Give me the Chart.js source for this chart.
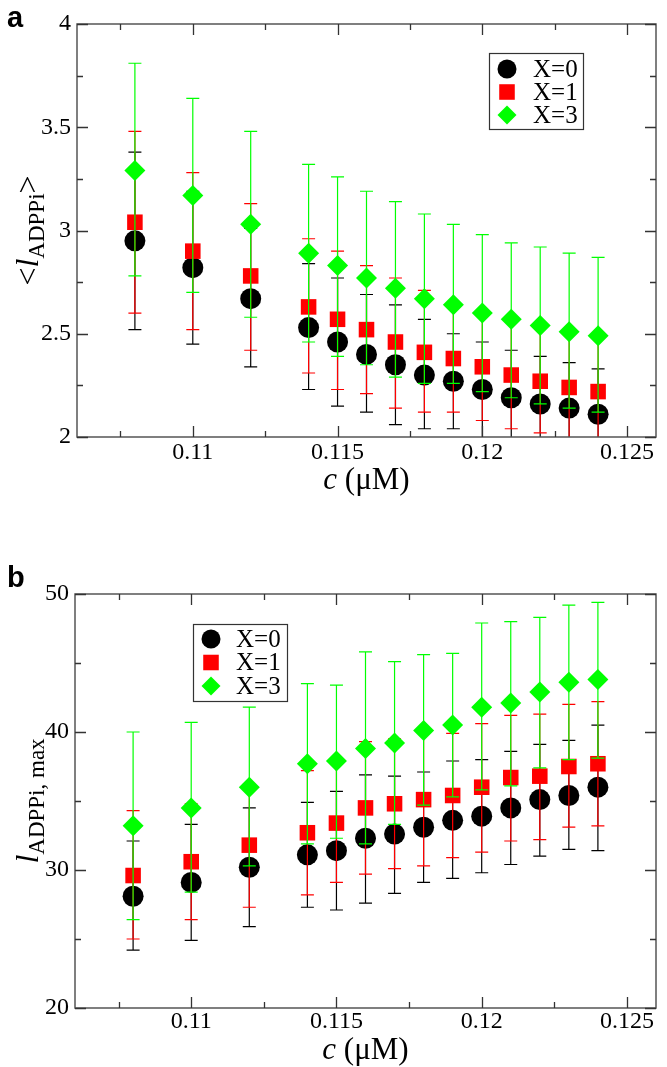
<!DOCTYPE html>
<html>
<head>
<meta charset="utf-8">
<script src="https://cdn.jsdelivr.net/npm/chart.js@4.4.0/dist/chart.umd.min.js"></script>
<style>
html,body{margin:0;padding:0;background:#ffffff;}
#wrapA{position:absolute;left:0;top:0;width:667px;height:534px;}
#wrapB{position:absolute;left:0;top:534px;width:667px;height:533px;}
</style>
</head>
<body>
<div id="wrapA"><canvas id="chartA"></canvas></div>
<div id="wrapB"><canvas id="chartB"></canvas></div>
<script>
// ---------- data ----------
const concentrations = [0.108,0.110,0.112,0.114,0.115,0.116,0.117,0.118,0.119,0.120,0.121,0.122,0.123,0.124];
const seriesNames  = ['X=0','X=1','X=3'];
const seriesColors = ['#000000','#ff0000','#00ff00'];
const seriesShapes = ['circle','rect','rectRot'];

// panel a : <l_ADPPi>
const meanA_X0 = [2.95,2.82,2.67,2.53,2.46,2.40,2.35,2.30,2.27,2.23,2.19,2.16,2.14,2.11];
const highA_X0 = [3.38,3.19,3.01,2.84,2.77,2.69,2.64,2.57,2.50,2.46,2.42,2.39,2.36,2.33];
const lowA_X0  = [2.52,2.45,2.34,2.23,2.15,2.12,2.06,2.04,2.04,1.99,1.96,1.93,1.91,1.89];
const meanA_X1 = [3.04,2.90,2.78,2.63,2.57,2.52,2.46,2.41,2.38,2.34,2.30,2.27,2.24,2.22];
const highA_X1 = [3.48,3.28,3.13,2.96,2.90,2.83,2.77,2.71,2.65,2.60,2.56,2.53,2.50,2.48];
const lowA_X1  = [2.60,2.52,2.42,2.31,2.23,2.21,2.14,2.12,2.12,2.08,2.04,2.02,1.98,1.95];
const meanA_X3 = [3.29,3.17,3.03,2.89,2.83,2.77,2.72,2.67,2.64,2.60,2.57,2.54,2.51,2.49];
const highA_X3 = [3.81,3.64,3.48,3.32,3.26,3.19,3.14,3.08,3.03,2.98,2.94,2.92,2.89,2.87];
const lowA_X3  = [2.78,2.70,2.58,2.46,2.39,2.35,2.29,2.26,2.26,2.22,2.19,2.16,2.14,2.12];

// panel b : l_ADPPi,max
const meanB_X0 = [28.1,29.1,30.2,31.1,31.4,32.3,32.6,33.1,33.6,33.9,34.5,35.1,35.4,36.0];
const highB_X0 = [32.1,33.3,34.5,34.9,35.7,36.9,36.8,37.1,37.9,38.0,38.6,39.1,39.4,40.5];
const lowB_X0  = [24.2,24.9,25.9,27.3,27.1,27.6,28.3,29.1,29.4,29.8,30.4,31.0,31.5,31.4];
const meanB_X1 = [29.6,30.6,31.8,32.7,33.4,34.5,34.8,35.1,35.4,36.0,36.7,36.8,37.5,37.7];
const highB_X1 = [34.3,34.8,36.2,37.2,37.8,39.3,39.5,39.9,39.9,40.6,41.2,41.3,42.0,42.2];
const lowB_X1  = [25.0,26.4,27.3,28.2,29.1,29.7,30.1,30.3,30.9,31.3,32.1,32.2,33.1,33.2];
const meanB_X3 = [33.2,34.5,36.0,37.7,37.9,38.8,39.2,40.1,40.5,41.8,42.1,42.9,43.6,43.8];
const highB_X3 = [40.0,40.7,41.8,43.5,43.4,45.8,45.1,45.6,45.7,47.9,48.0,48.3,49.2,49.4];
const lowB_X3  = [26.4,28.4,30.3,31.9,32.3,31.9,33.3,34.7,35.3,35.8,36.1,37.4,38.0,38.1];

// ticks
const xMajorTicks = [0.11,0.115,0.12,0.125];
const xTickLabels = ['0.11','0.115','0.12','0.125'];
const xMinorTicks = [0.1075,0.1125,0.1175,0.1225];
const yMajorTicksA = [2,2.5,3,3.5,4];
const yTickLabelsA = ['2','2.5','3','3.5','4'];
const yMinorTicksA = [2.25,2.75,3.25,3.75];
const yMajorTicksB = [20,30,40,50];
const yTickLabelsB = ['20','30','40','50'];
const yMinorTicksB = [25,35,45];

// ---------- helpers ----------
const SERIF = "'Liberation Serif', 'Times New Roman', serif";
Chart.defaults.font.family = SERIF;
Chart.defaults.font.size = 24;
Chart.defaults.color = '#000000';

function drawShape(ctx, shape, x, y, r, color) {
  ctx.save();
  ctx.fillStyle = color;
  ctx.beginPath();
  if (shape === 'circle') ctx.arc(x, y, r, 0, Math.PI * 2);
  else if (shape === 'rect') { const s = r * Math.SQRT1_2; ctx.rect(x - s, y - s, 2 * s, 2 * s); }
  else { ctx.moveTo(x - r, y); ctx.lineTo(x, y - r); ctx.lineTo(x + r, y); ctx.lineTo(x, y + r); ctx.closePath(); }
  ctx.fill();
  ctx.restore();
}

function buildDatasets(means, lows, highs) {
  const radii = [10.5, 11, 10.5];
  return means.map((m, s) => ({
    label: seriesNames[s],
    data: concentrations.map((c, i) => ({x: c, y: m[i]})),
    errorLow: lows[s],
    errorHigh: highs[s],
    showLine: false,
    pointStyle: seriesShapes[s],
    pointRadius: radii[s],
    pointHoverRadius: radii[s],
    pointBackgroundColor: seriesColors[s],
    pointBorderColor: seriesColors[s],
    pointBorderWidth: 0,
    order: 3 - s
  }));
}

const decorPlugin = {
  id: 'decor',
  beforeDatasetDraw(chart, args) {
    const ds = chart.data.datasets[args.index];
    if (!ds.errorLow) return;
    const ctx = chart.ctx, area = chart.chartArea;
    const xs = chart.scales.x, ys = chart.scales.y;
    ctx.save();
    ctx.beginPath();
    ctx.rect(area.left, area.top, area.right - area.left, area.bottom - area.top);
    ctx.clip();
    ctx.strokeStyle = seriesColors[args.index];
    ctx.lineWidth = 1.2;
    const cap = 6.5;
    ds.data.forEach((p, i) => {
      const px = xs.getPixelForValue(p.x);
      const yl = ys.getPixelForValue(ds.errorLow[i]);
      const yh = ys.getPixelForValue(ds.errorHigh[i]);
      ctx.beginPath();
      ctx.moveTo(px, yl); ctx.lineTo(px, yh);
      ctx.moveTo(px - cap, yl); ctx.lineTo(px + cap, yl);
      ctx.moveTo(px - cap, yh); ctx.lineTo(px + cap, yh);
      ctx.stroke();
    });
    ctx.restore();
  },
  afterDatasetsDraw(chart, args, opts) {
    const ctx = chart.ctx, a = chart.chartArea;
    const xs = chart.scales.x, ys = chart.scales.y;
    ctx.save();
    // frame
    ctx.strokeStyle = '#555555';
    ctx.lineWidth = 1.5;
    ctx.strokeRect(a.left, a.top, a.right - a.left, a.bottom - a.top);
    // inward ticks
    ctx.lineWidth = 1.3;
    ctx.strokeStyle = '#333333';
    const tickX = (vals, len) => vals.forEach(v => {
      const px = Math.round(xs.getPixelForValue(v)) + 0.5;
      ctx.beginPath();
      ctx.moveTo(px, a.bottom); ctx.lineTo(px, a.bottom - len);
      ctx.moveTo(px, a.top); ctx.lineTo(px, a.top + len);
      ctx.stroke();
    });
    const tickY = (vals, len) => vals.forEach(v => {
      const py = Math.round(ys.getPixelForValue(v)) + 0.5;
      ctx.beginPath();
      ctx.moveTo(a.left, py); ctx.lineTo(a.left + len, py);
      ctx.moveTo(a.right, py); ctx.lineTo(a.right - len, py);
      ctx.stroke();
    });
    tickX(xMajorTicks, 11); tickX(xMinorTicks, 6);
    tickY(opts.yMajor, 11); tickY(opts.yMinor, 6);
    // legend
    const L = opts.legend;
    ctx.fillStyle = '#ffffff';
    ctx.fillRect(L.x, L.y, L.w, L.h);
    ctx.strokeStyle = '#333333';
    ctx.lineWidth = 1.2;
    ctx.strokeRect(L.x + 0.5, L.y + 0.5, L.w, L.h);
    ctx.font = '25px ' + SERIF;
    ctx.fillStyle = '#000000';
    ctx.textBaseline = 'middle';
    ctx.textAlign = 'left';
    chart.data.datasets.forEach((ds, s) => {
      const ry = L.y + L.row0 + s * L.rowGap;
      drawShape(ctx, seriesShapes[s], L.x + L.markX, ry, s === 1 ? 11 : 9.5, seriesColors[s]);
      ctx.fillStyle = '#000000';
      ctx.fillText(ds.label, L.x + L.textX, ry + 1);
    });
    ctx.restore();
  },
  afterDraw(chart, args, opts) {
    const ctx = chart.ctx, a = chart.chartArea;
    ctx.save();
    ctx.fillStyle = '#000000';
    // panel label
    ctx.font = 'bold 29px "Liberation Sans", Arial, sans-serif';
    ctx.textAlign = 'left';
    ctx.textBaseline = 'alphabetic';
    ctx.fillText(opts.panel, 7, opts.panelY);
    // x title: c (μM)
    const xFontI = 'italic 31px ' + SERIF, xFont = '31px ' + SERIF;
    ctx.font = xFontI; const w1 = ctx.measureText('c').width;
    ctx.font = xFont; const w2 = ctx.measureText(' (\u03bcM)').width;
    const cx = (a.left + a.right) / 2 - (w1 + w2) / 2;
    ctx.font = xFontI; ctx.fillText('c', cx, opts.xTitleY);
    ctx.font = xFont; ctx.fillText(' (\u03bcM)', cx + w1, opts.xTitleY);
    // y title (rotated)
    const parts = opts.yTitle;
    let total = 0;
    parts.forEach(p => { ctx.font = p.font; p.w = ctx.measureText(p.t).width; total += p.w; });
    ctx.translate(opts.yTitleX, (a.top + a.bottom) / 2);
    ctx.rotate(-Math.PI / 2);
    let px = -total / 2;
    parts.forEach(p => { ctx.font = p.font; ctx.fillText(p.t, px, p.dy || 0); px += p.w; });
    ctx.restore();
  }
};

function makeChart(id, datasets, yMin, yMax, yMajor, yLabels, yMinor, xAxisHeight, xPad, topPad, rightPad, yAxisWidth, decor) {
  return new Chart(document.getElementById(id), {
    type: 'scatter',
    data: {datasets},
    plugins: [decorPlugin],
    options: {
      responsive: true,
      maintainAspectRatio: false,
      animation: false,
      events: [],
      layout: {padding: {top: topPad, right: rightPad, left: 0, bottom: 0}},
      plugins: {legend: {display: false}, tooltip: {enabled: false}, decor},
      scales: {
        x: {
          type: 'linear', min: 0.106, max: 0.126,
          afterBuildTicks: s => { s.ticks = xMajorTicks.map(v => ({value: v})); },
          afterFit: s => { s.height = xAxisHeight; },
          ticks: {callback: (v, i) => xTickLabels[i], font: {family: SERIF, size: 24}, color: '#000000', padding: xPad, maxRotation: 0, autoSkip: false},
          grid: {display: false, drawTicks: false},
          border: {display: false}
        },
        y: {
          type: 'linear', min: yMin, max: yMax,
          afterBuildTicks: s => { s.ticks = yMajor.map(v => ({value: v})); },
          afterFit: s => { s.width = yAxisWidth; },
          ticks: {callback: (v, i) => yLabels[i], font: {family: SERIF, size: 24}, color: '#000000', padding: 6, autoSkip: false},
          grid: {display: false, drawTicks: false},
          border: {display: false}
        }
      }
    }
  });
}

const subFont = '23px ' + SERIF, mainFont = '32px ' + SERIF, italFont = 'italic 32px ' + SERIF;

makeChart('chartA',
  buildDatasets([meanA_X0, meanA_X1, meanA_X3], [lowA_X0, lowA_X1, lowA_X3], [highA_X0, highA_X1, highA_X3]),
  2, 4, yMajorTicksA, yTickLabelsA, yMinorTicksA, 97, 1, 24, 2, 77,
  {
    panel: 'a', panelY: 27, xTitleY: 489, yTitleX: 38,
    yMajor: yMajorTicksA, yMinor: yMinorTicksA,
    legend: {x: 489, y: 53, w: 94, h: 76, markX: 18, textX: 44, row0: 16, rowGap: 23},
    yTitle: [{t: '<', font: mainFont}, {t: 'l', font: italFont}, {t: 'ADPPi', font: subFont, dy: 6}, {t: '>', font: mainFont}]
  });

makeChart('chartB',
  buildDatasets([meanB_X0, meanB_X1, meanB_X3], [lowB_X0, lowB_X1, lowB_X3], [highB_X0, highB_X1, highB_X3]),
  20, 50, yMajorTicksB, yTickLabelsB, yMinorTicksB, 59, -1, 60, 3, 75,
  {
    panel: 'b', panelY: 53, xTitleY: 525, yTitleX: 38,
    yMajor: yMajorTicksB, yMinor: yMinorTicksB,
    legend: {x: 193, y: 90, w: 94, h: 77, markX: 18, textX: 43, row0: 15, rowGap: 23.5},
    yTitle: [{t: 'l', font: italFont}, {t: 'ADPPi, max', font: subFont, dy: 6}]
  });
</script>
</body>
</html>
